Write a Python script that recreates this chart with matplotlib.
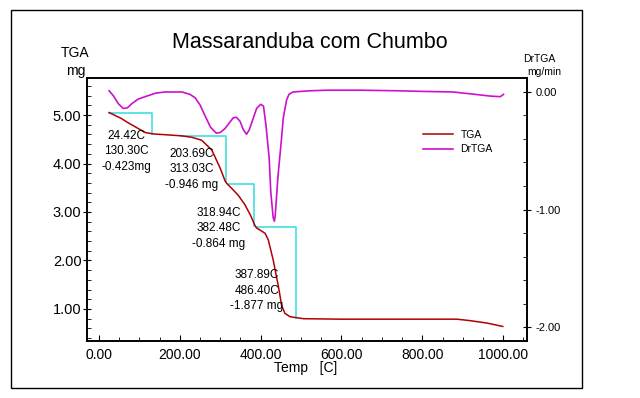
import matplotlib

matplotlib.use("Agg")
from matplotlib import pyplot as plt, ticker as mticker
from matplotlib.patches import Rectangle
from matplotlib.lines import Line2D

plt.rcParams["font.family"] = ["Liberation Sans", "DejaVu Sans"]

# TGA curve (mg)
tga_temp = [25, 40, 55, 70, 89, 114, 134, 170, 205, 230, 254, 279, 300, 312,
            316, 328, 345, 361, 375, 386, 390, 400, 411, 419, 431, 444, 452,
            460, 473, 489, 506, 600, 700, 800, 885, 918, 960, 999]
tga_mass = [5.05, 4.99, 4.93, 4.85, 4.76, 4.64, 4.61, 4.59, 4.57, 4.54, 4.48,
            4.28, 3.90, 3.64, 3.59, 3.49, 3.34, 3.15, 2.93, 2.72, 2.67, 2.62,
            2.56, 2.42, 2.01, 1.46, 1.07, 0.91, 0.84, 0.82, 0.80, 0.79, 0.79,
            0.79, 0.79, 0.76, 0.71, 0.64]

# derivative curve (mg/min)
dr_temp = [25, 35, 48, 60, 70, 81, 97, 114, 140, 163, 205, 225, 238, 250, 262,
           276, 290, 300, 312, 332, 340, 349, 357, 365, 372, 382, 390, 400,
           407, 413, 421, 425, 431, 434, 436, 443, 451, 456, 464, 470, 480,
           520, 563, 650, 745, 800, 876, 930, 968, 993, 1001]
dr_val = [0.01, -0.03, -0.10, -0.14, -0.135, -0.10, -0.06, -0.04, -0.01, 0.0,
          0.0, -0.02, -0.05, -0.11, -0.20, -0.30, -0.35, -0.345, -0.31, -0.22,
          -0.215, -0.25, -0.32, -0.36, -0.32, -0.22, -0.14, -0.105, -0.12,
          -0.28, -0.56, -0.85, -1.07, -1.10, -1.05, -0.71, -0.42, -0.22, -0.07,
          -0.02, 0.0, 0.01, 0.015, 0.015, 0.01, 0.005, 0.0, -0.02, -0.035,
          -0.04, -0.02]

# step analysis (start temp, end temp, start mass, end mass)
step_t1 = [24.42, 203.69, 318.94, 387.89]
step_t2 = [130.30, 313.03, 382.48, 486.40]
step_m1 = [5.04, 4.57, 3.58, 2.69]
step_m2 = [4.617, 3.624, 2.716, 0.813]
step_loss = ["-0.423mg", "-0.946 mg", "-0.864 mg", "-1.877 mg"]
# where each label block sits (x, y of first line in data units)
label_xy = [(67, 4.57), (230, 4.20), (297, 2.98), (391, 1.70)]

W, H = 640, 398
fig = plt.figure(figsize=(W / 100, H / 100), dpi=100)
ax = fig.add_axes([87 / W, 1 - 341 / H, 440 / W, 263 / H])
ax2 = ax.twinx()

for i in range(len(step_t1)):
    ax.plot([step_t1[i], step_t2[i], step_t2[i]],
            [step_m1[i], step_m1[i], step_m2[i]], color="#40E0E0", lw=1.2)
ax.plot(tga_temp, tga_mass, color="#B00000", lw=1.1)
ax2.plot(dr_temp, dr_val, color="#CC11CC", lw=1.2)

for i in range(len(step_t1)):
    x, y = label_xy[i]
    lines = ["%.2fC" % step_t1[i], "%.2fC" % step_t2[i], step_loss[i]]
    for k, s in enumerate(lines):
        ax.text(x, y - k * 0.32, s, ha="center", va="center", fontsize=8.5)

ax.set_xlim(-29.7, 1059)
ax.set_ylim(0.34, 5.763)
ax2.set_ylim(-2.119, 0.119)

ax.xaxis.set_major_locator(mticker.MultipleLocator(200))
ax.xaxis.set_minor_locator(mticker.MultipleLocator(50))
ax.yaxis.set_major_locator(mticker.MultipleLocator(1))
ax.yaxis.set_minor_locator(mticker.MultipleLocator(0.2))
ax2.yaxis.set_major_locator(mticker.MultipleLocator(1))
ax2.yaxis.set_minor_locator(mticker.MultipleLocator(0.2))
fmt = mticker.FormatStrFormatter("%.2f")
ax.xaxis.set_major_formatter(fmt)
ax.yaxis.set_major_formatter(fmt)
ax2.yaxis.set_major_formatter(fmt)

ax.tick_params(axis="x", which="major", direction="in", length=4, pad=5, labelsize=10)
ax.tick_params(axis="x", which="minor", direction="in", length=3)
ax.tick_params(axis="y", which="major", direction="inout", length=6, pad=1, labelsize=10.5)
ax.tick_params(axis="y", which="minor", direction="in", length=3)
ax2.tick_params(axis="y", which="major", direction="inout", length=6, pad=3, labelsize=8)
ax2.tick_params(axis="y", which="minor", direction="in", length=3)
for a in (ax, ax2):
    for sp in a.spines.values():
        sp.set_linewidth(1.2)

fig.text(310 / W, 1 - 42 / H, "Massaranduba com Chumbo", ha="center", va="center", fontsize=15.5)
fig.text(75 / W, 1 - 53 / H, "TGA", ha="center", va="center", fontsize=10)
fig.text(76 / W, 1 - 71.5 / H, "mg", ha="center", va="center", fontsize=10)
fig.text(539 / W, 1 - 59 / H, "DrTGA", ha="center", va="center", fontsize=7.5)
fig.text(544 / W, 1 - 72 / H, "mg/min", ha="center", va="center", fontsize=7.5)
fig.text(306 / W, 1 - 368 / H, "Temp   [C]", ha="center", va="center", fontsize=10)

handles = [Line2D([], [], color="#B00000", lw=1.1), Line2D([], [], color="#CC11CC", lw=1.2)]
fig.legend(handles, ["TGA", "DrTGA"], loc="upper left", bbox_to_anchor=(423 / W, 1 - 130 / H),
           frameon=False, fontsize=7.5, handlelength=2.9, handletextpad=0.7,
           labelspacing=0.4, borderpad=0, borderaxespad=0)

# outer frame round the whole chart
fig.add_artist(Rectangle((11 / W, 1 - 388 / H), 571 / W, 378 / H, transform=fig.transFigure,
                         fill=False, edgecolor="black", lw=1))

fig.savefig("out.png", dpi=100)
